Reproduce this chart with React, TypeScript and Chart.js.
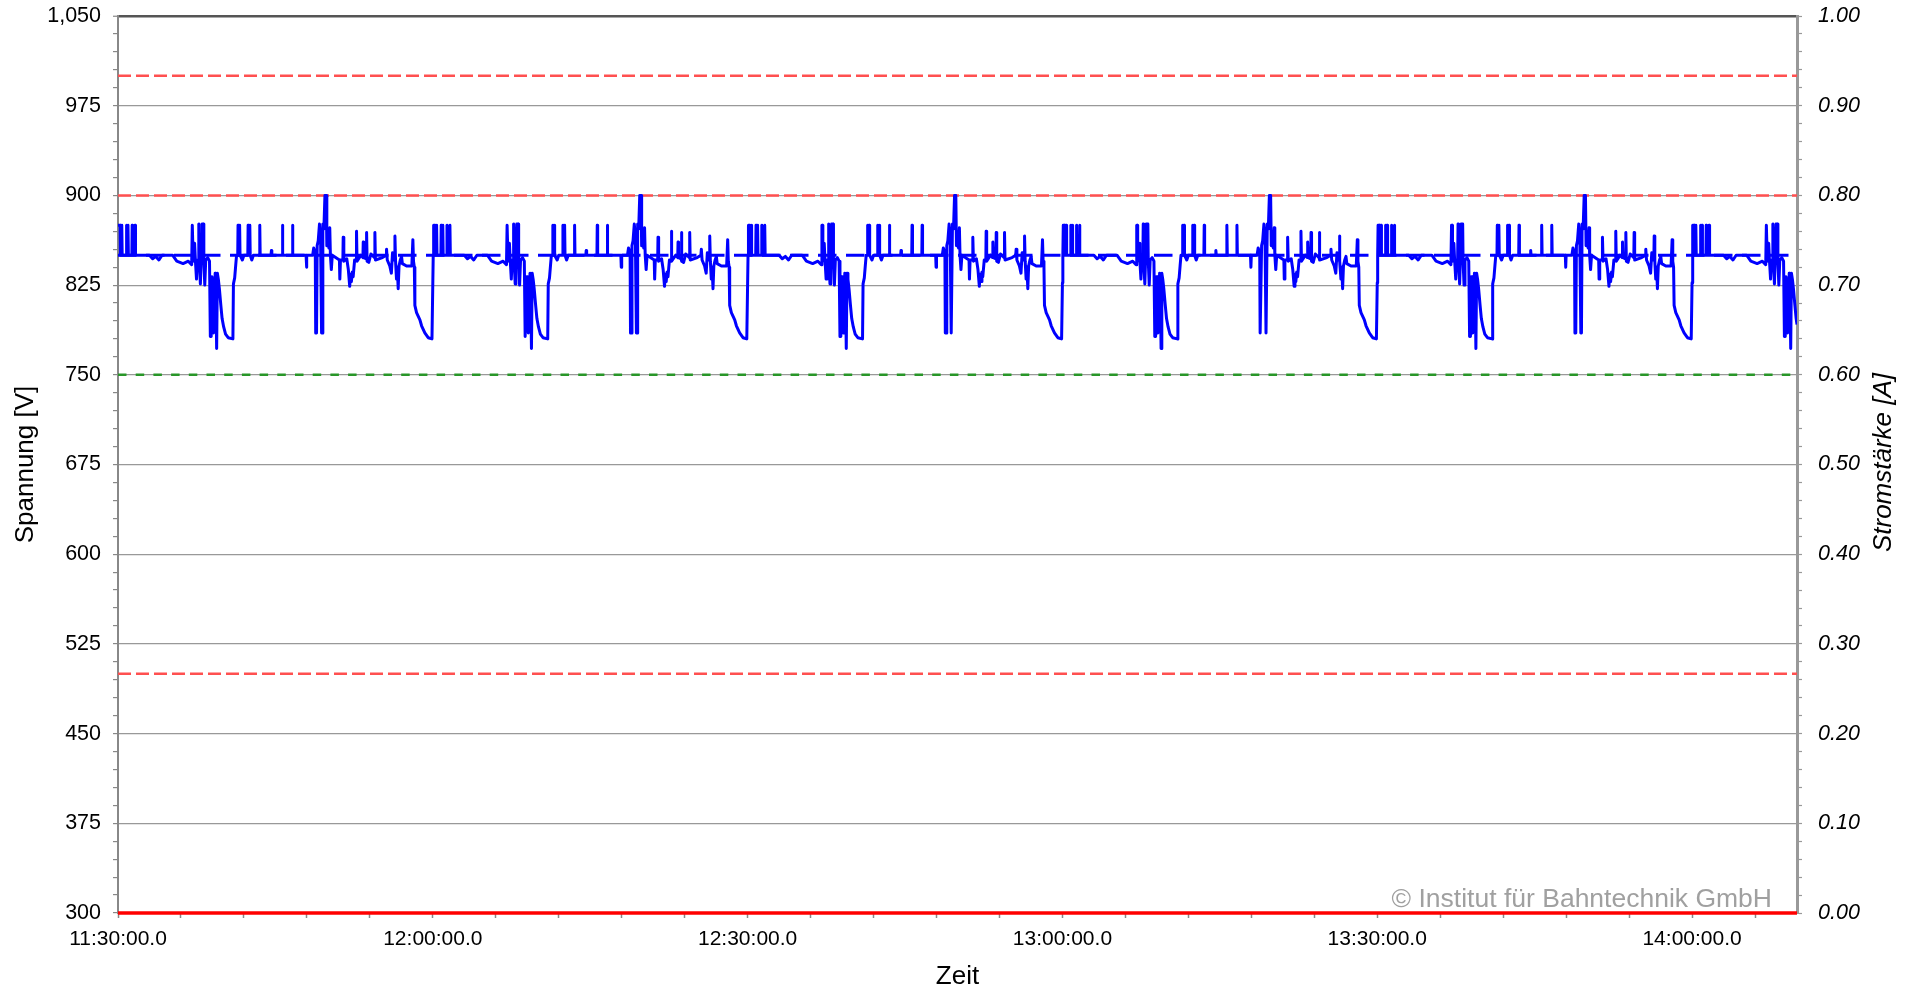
import React, { useEffect, useRef } from 'react';
import { Chart, registerables } from 'chart.js';

Chart.register(...registerables);

// ---------- axes ----------
const xMinMinute = 0; // 11:30:00.0
const xMaxMinute = 160; // 14:10:00.0
const xMinorStepMinutes = 6;
const xLabelMinutes = [0, 30, 60, 90, 120, 150];
const xTickLabels = ['11:30:00.0', '12:00:00.0', '12:30:00.0', '13:00:00.0', '13:30:00.0', '14:00:00.0'];

const yMinVolt = 300;
const yMaxVolt = 1050;
const yMinorStepVolt = 15;
const yLabelValues = [300, 375, 450, 525, 600, 675, 750, 825, 900, 975, 1050];
const yTickLabels = ['300', '375', '450', '525', '600', '675', '750', '825', '900', '975', '1,050'];

const currentMinAmp = 0;
const currentMaxAmp = 1;
const currentMinorSteps = 50;
const currentTickLabels = ['0.00', '0.10', '0.20', '0.30', '0.40', '0.50', '0.60', '0.70', '0.80', '0.90', '1.00'];

const xAxisTitle = 'Zeit';
const yAxisTitle = 'Spannung [V]';
const y1AxisTitle = 'Stromstärke [A]';
const copyrightText = '© Institut für Bahntechnik GmbH';

// ---------- reference lines ----------
const redLimitVolts = [1000, 900, 500];
const greenLimitVolts = [750];
const nominalVolt = 850;
const currentAmps: number[][] = [[0, 0], [160, 0]];

// ---------- voltage [minutes since 11:30, V] ----------
const zyklus1: number[][] = [
[0.00,875],[0.20,875],[0.23,850],[0.33,850],[0.36,875],[0.40,850],[0.77,850],[0.80,875],[0.84,850],[0.92,850],[0.95,875],[0.99,850],[1.32,850],[1.35,875],[1.39,850],[1.60,850],[1.63,875],[1.67,850],
[3.00,850],[3.30,847],[3.60,849],[3.90,846],[4.20,850],[5.20,850],[5.60,845],[6.20,843],[6.70,845],[7.02,842],
[7.08,875],[7.13,875],[7.17,845],[7.30,860],[7.38,845],[7.48,830],[7.56,846],[7.66,846],[7.70,876],[7.75,845],[7.85,826],[7.92,846],[8.00,876],[8.14,876],[8.18,845],[8.27,825],[8.36,846],[8.55,848],[8.72,845],
[8.80,782],[8.88,782],[8.96,832],[9.04,832],[9.10,785],[9.18,805],[9.26,835],[9.32,829],[9.40,772],[9.47,835],[9.56,830],[9.66,822],[9.80,808],[9.92,797],[10.07,790],[10.25,784],[10.50,781],[10.95,780],
[11.00,826],[11.12,831],[11.22,842],[11.30,850],[11.41,850],[11.44,875],[11.48,850],[11.56,850],[11.59,875],[11.63,850],[11.85,846],[12.00,850],[12.37,850],[12.40,875],[12.44,850],[12.53,850],[12.56,875],[12.60,850],[12.75,846],[12.90,850],[13.48,850],[13.51,875],[13.55,850],[14.58,850],[14.62,854],[14.66,850],[15.64,850],[15.67,875],[15.71,850],[16.60,850],[16.63,875],[16.67,850],[17.92,850],[17.96,840],[18.00,850],
[18.55,850],[18.65,856],[18.80,852],[18.84,785],[18.92,785],[18.98,858],[19.08,862],[19.20,876],[19.30,866],[19.40,785],[19.46,785],[19.52,876],[19.62,872],[19.72,900],[19.84,900],[19.90,858],[20.00,862],[20.10,856],[20.18,873],[20.24,850],[20.33,838],[20.42,850],
[21.10,846],[21.14,830],[21.20,846],[21.43,846],[21.46,865],[21.52,845],[21.80,847],[21.95,838],[22.08,824],[22.16,834],[22.24,828],[22.33,836],[22.41,832],[22.55,846],[22.70,846],[22.73,870],[22.78,845],[23.15,850],[23.34,848],[23.37,861],[23.42,848],[23.66,847],[23.69,869],[23.74,845],[23.90,844],[24.10,851],[24.45,848],[24.48,869],[24.53,846],[25.20,848],[25.55,850],[25.59,855],[25.66,846],[25.90,841],[26.05,835],[26.16,852],[26.24,846],[26.36,846],[26.39,866],[26.45,845],[26.54,830],[26.62,840],[26.70,822],[26.78,841],[26.90,846],[27.02,849],[27.10,843],[27.50,841],[28.00,841],[28.10,863],[28.16,845],[28.24,840],
[28.29,808],[28.45,802],[28.77,796],[28.93,791],[29.24,785],[29.56,781],[29.92,780],
];

const zyklus2: number[][] = [
[30.00,827],[30.04,850],[30.08,875],[30.20,875],[30.23,850],[30.33,850],[30.36,875],[30.40,850],[30.77,850],[30.80,875],[30.84,850],[30.92,850],[30.95,875],[30.99,850],[31.32,850],[31.35,875],[31.39,850],[31.60,850],[31.63,875],[31.67,850],
[33.00,850],[33.30,847],[33.60,849],[33.90,846],[34.20,850],[35.20,850],[35.60,845],[36.20,843],[36.70,845],[37.02,842],
[37.08,875],[37.13,875],[37.17,845],[37.30,860],[37.38,845],[37.48,830],[37.56,846],[37.66,846],[37.70,876],[37.75,845],[37.85,826],[37.92,846],[38.00,876],[38.14,876],[38.18,845],[38.27,825],[38.36,846],[38.55,848],[38.72,845],
[38.80,782],[38.88,782],[38.96,832],[39.04,832],[39.10,785],[39.18,805],[39.26,835],[39.32,829],[39.40,772],[39.47,835],[39.56,830],[39.66,822],[39.80,808],[39.92,797],[40.07,790],[40.25,784],[40.50,781],[40.95,780],
[41.00,826],[41.12,831],[41.22,842],[41.30,850],[41.41,850],[41.44,875],[41.48,850],[41.56,850],[41.59,875],[41.63,850],[41.85,846],[42.00,850],[42.37,850],[42.40,875],[42.44,850],[42.53,850],[42.56,875],[42.60,850],[42.75,846],[42.90,850],[43.48,850],[43.51,875],[43.55,850],[44.58,850],[44.62,854],[44.66,850],[45.64,850],[45.67,875],[45.71,850],[46.60,850],[46.63,875],[46.67,850],[47.92,850],[47.96,840],[48.00,850],
[48.55,850],[48.65,856],[48.80,852],[48.84,785],[48.92,785],[48.98,858],[49.08,862],[49.20,876],[49.30,866],[49.40,785],[49.46,785],[49.52,876],[49.62,872],[49.72,900],[49.84,900],[49.90,858],[50.00,862],[50.10,856],[50.18,873],[50.24,850],[50.33,838],[50.42,850],
[51.10,846],[51.14,830],[51.20,846],[51.43,846],[51.46,865],[51.52,845],[51.80,847],[51.95,838],[52.08,824],[52.16,834],[52.24,828],[52.33,836],[52.41,832],[52.55,846],[52.70,846],[52.73,870],[52.78,845],[53.15,850],[53.34,848],[53.37,861],[53.42,848],[53.66,847],[53.69,869],[53.74,845],[53.90,844],[54.10,851],[54.45,848],[54.48,869],[54.53,846],[55.20,848],[55.55,850],[55.59,855],[55.66,846],[55.90,841],[56.05,835],[56.16,852],[56.24,846],[56.36,846],[56.39,866],[56.45,845],[56.54,830],[56.62,840],[56.70,822],[56.78,841],[56.90,846],[57.02,849],[57.10,843],[57.50,841],[58.00,841],[58.10,863],[58.16,845],[58.24,840],
[58.29,808],[58.45,802],[58.77,796],[58.93,791],[59.24,785],[59.56,781],[59.92,780],
];

const zyklus3: number[][] = [
[60.00,827],[60.04,850],[60.08,875],[60.20,875],[60.23,850],[60.33,850],[60.36,875],[60.40,850],[60.77,850],[60.80,875],[60.84,850],[60.92,850],[60.95,875],[60.99,850],[61.32,850],[61.35,875],[61.39,850],[61.60,850],[61.63,875],[61.67,850],
[63.00,850],[63.30,847],[63.60,849],[63.90,846],[64.20,850],[65.20,850],[65.60,845],[66.20,843],[66.70,845],[67.02,842],
[67.08,875],[67.13,875],[67.17,845],[67.30,860],[67.38,845],[67.48,830],[67.56,846],[67.66,846],[67.70,876],[67.75,845],[67.85,826],[67.92,846],[68.00,876],[68.14,876],[68.18,845],[68.27,825],[68.36,846],[68.55,848],[68.72,845],
[68.80,782],[68.88,782],[68.96,832],[69.04,832],[69.10,785],[69.18,805],[69.26,835],[69.32,829],[69.40,772],[69.47,835],[69.56,830],[69.66,822],[69.80,808],[69.92,797],[70.07,790],[70.25,784],[70.50,781],[70.95,780],
[71.00,826],[71.12,831],[71.22,842],[71.30,850],[71.41,850],[71.44,875],[71.48,850],[71.56,850],[71.59,875],[71.63,850],[71.85,846],[72.00,850],[72.37,850],[72.40,875],[72.44,850],[72.53,850],[72.56,875],[72.60,850],[72.75,846],[72.90,850],[73.48,850],[73.51,875],[73.55,850],[74.58,850],[74.62,854],[74.66,850],[75.64,850],[75.67,875],[75.71,850],[76.60,850],[76.63,875],[76.67,850],[77.92,850],[77.96,840],[78.00,850],
[78.55,850],[78.65,856],[78.80,852],[78.84,785],[78.92,785],[78.98,858],[79.08,862],[79.20,876],[79.30,866],[79.40,785],[79.46,785],[79.52,876],[79.62,872],[79.72,900],[79.84,900],[79.90,858],[80.00,862],[80.10,856],[80.18,873],[80.24,850],[80.33,838],[80.42,850],
[81.10,846],[81.14,830],[81.20,846],[81.43,846],[81.46,865],[81.52,845],[81.80,847],[81.95,838],[82.08,824],[82.16,834],[82.24,828],[82.33,836],[82.41,832],[82.55,846],[82.70,846],[82.73,870],[82.78,845],[83.15,850],[83.34,848],[83.37,861],[83.42,848],[83.66,847],[83.69,869],[83.74,845],[83.90,844],[84.10,851],[84.45,848],[84.48,869],[84.53,846],[85.20,848],[85.55,850],[85.59,855],[85.66,846],[85.90,841],[86.05,835],[86.16,852],[86.24,846],[86.36,846],[86.39,866],[86.45,845],[86.54,830],[86.62,840],[86.70,822],[86.78,841],[86.90,846],[87.02,849],[87.10,843],[87.50,841],[88.00,841],[88.10,863],[88.16,845],[88.24,840],
[88.29,808],[88.45,802],[88.77,796],[88.93,791],[89.24,785],[89.56,781],[89.92,780],
];

const zyklus4: number[][] = [
[90.00,827],[90.04,850],[90.08,875],[90.20,875],[90.23,850],[90.33,850],[90.36,875],[90.40,850],[90.77,850],[90.80,875],[90.84,850],[90.92,850],[90.95,875],[90.99,850],[91.32,850],[91.35,875],[91.39,850],[91.60,850],[91.63,875],[91.67,850],
[93.00,850],[93.30,847],[93.60,849],[93.90,846],[94.20,850],[95.20,850],[95.60,845],[96.20,843],[96.70,845],[97.02,842],
[97.08,875],[97.13,875],[97.17,845],[97.30,860],[97.38,845],[97.48,830],[97.56,846],[97.66,846],[97.70,876],[97.75,845],[97.85,826],[97.92,846],[98.00,876],[98.14,876],[98.18,845],[98.27,825],[98.36,846],[98.55,848],[98.72,845],
[98.80,782],[98.88,782],[98.96,832],[99.04,832],[99.10,785],[99.18,805],[99.26,835],[99.32,829],[99.40,772],[99.47,835],[99.56,830],[99.66,822],[99.80,808],[99.92,797],[100.07,790],[100.25,784],[100.50,781],[100.95,780],
[101.00,826],[101.12,831],[101.22,842],[101.30,850],[101.41,850],[101.44,875],[101.48,850],[101.56,850],[101.59,875],[101.63,850],[101.85,846],[102.00,850],[102.37,850],[102.40,875],[102.44,850],[102.53,850],[102.56,875],[102.60,850],[102.75,846],[102.90,850],[103.48,850],[103.51,875],[103.55,850],[104.58,850],[104.62,854],[104.66,850],[105.64,850],[105.67,875],[105.71,850],[106.60,850],[106.63,875],[106.67,850],[107.92,850],[107.96,840],[108.00,850],
[108.55,850],[108.65,856],[108.80,852],[108.84,785],[108.92,785],[108.98,858],[109.08,862],[109.20,876],[109.30,866],[109.40,785],[109.46,785],[109.52,876],[109.62,872],[109.72,900],[109.84,900],[109.90,858],[110.00,862],[110.10,856],[110.18,873],[110.24,850],[110.33,838],[110.42,850],
[111.10,846],[111.14,830],[111.20,846],[111.43,846],[111.46,865],[111.52,845],[111.80,847],[111.95,838],[112.08,824],[112.16,834],[112.24,828],[112.33,836],[112.41,832],[112.55,846],[112.70,846],[112.73,870],[112.78,845],[113.15,850],[113.34,848],[113.37,861],[113.42,848],[113.66,847],[113.69,869],[113.74,845],[113.90,844],[114.10,851],[114.45,848],[114.48,869],[114.53,846],[115.20,848],[115.55,850],[115.59,855],[115.66,846],[115.90,841],[116.05,835],[116.16,852],[116.24,846],[116.36,846],[116.39,866],[116.45,845],[116.54,830],[116.62,840],[116.70,822],[116.78,841],[116.90,846],[117.02,849],[117.10,843],[117.50,841],[118.00,841],[118.10,863],[118.16,845],[118.24,840],
[118.29,808],[118.45,802],[118.77,796],[118.93,791],[119.24,785],[119.56,781],[119.92,780],
];

const zyklus5: number[][] = [
[120.00,827],[120.04,850],[120.08,875],[120.20,875],[120.23,850],[120.33,850],[120.36,875],[120.40,850],[120.77,850],[120.80,875],[120.84,850],[120.92,850],[120.95,875],[120.99,850],[121.32,850],[121.35,875],[121.39,850],[121.60,850],[121.63,875],[121.67,850],
[123.00,850],[123.30,847],[123.60,849],[123.90,846],[124.20,850],[125.20,850],[125.60,845],[126.20,843],[126.70,845],[127.02,842],
[127.08,875],[127.13,875],[127.17,845],[127.30,860],[127.38,845],[127.48,830],[127.56,846],[127.66,846],[127.70,876],[127.75,845],[127.85,826],[127.92,846],[128.00,876],[128.14,876],[128.18,845],[128.27,825],[128.36,846],[128.55,848],[128.72,845],
[128.80,782],[128.88,782],[128.96,832],[129.04,832],[129.10,785],[129.18,805],[129.26,835],[129.32,829],[129.40,772],[129.47,835],[129.56,830],[129.66,822],[129.80,808],[129.92,797],[130.07,790],[130.25,784],[130.50,781],[130.95,780],
[131.00,826],[131.12,831],[131.22,842],[131.30,850],[131.41,850],[131.44,875],[131.48,850],[131.56,850],[131.59,875],[131.63,850],[131.85,846],[132.00,850],[132.37,850],[132.40,875],[132.44,850],[132.53,850],[132.56,875],[132.60,850],[132.75,846],[132.90,850],[133.48,850],[133.51,875],[133.55,850],[134.58,850],[134.62,854],[134.66,850],[135.64,850],[135.67,875],[135.71,850],[136.60,850],[136.63,875],[136.67,850],[137.92,850],[137.96,840],[138.00,850],
[138.55,850],[138.65,856],[138.80,852],[138.84,785],[138.92,785],[138.98,858],[139.08,862],[139.20,876],[139.30,866],[139.40,785],[139.46,785],[139.52,876],[139.62,872],[139.72,900],[139.84,900],[139.90,858],[140.00,862],[140.10,856],[140.18,873],[140.24,850],[140.33,838],[140.42,850],
[141.10,846],[141.14,830],[141.20,846],[141.43,846],[141.46,865],[141.52,845],[141.80,847],[141.95,838],[142.08,824],[142.16,834],[142.24,828],[142.33,836],[142.41,832],[142.55,846],[142.70,846],[142.73,870],[142.78,845],[143.15,850],[143.34,848],[143.37,861],[143.42,848],[143.66,847],[143.69,869],[143.74,845],[143.90,844],[144.10,851],[144.45,848],[144.48,869],[144.53,846],[145.20,848],[145.55,850],[145.59,855],[145.66,846],[145.90,841],[146.05,835],[146.16,852],[146.24,846],[146.36,846],[146.39,866],[146.45,845],[146.54,830],[146.62,840],[146.70,822],[146.78,841],[146.90,846],[147.02,849],[147.10,843],[147.50,841],[148.00,841],[148.10,863],[148.16,845],[148.24,840],
[148.29,808],[148.45,802],[148.77,796],[148.93,791],[149.24,785],[149.56,781],[149.92,780],
];

const zyklus6: number[][] = [
[150.00,827],[150.04,850],[150.08,875],[150.20,875],[150.23,850],[150.33,850],[150.36,875],[150.40,850],[150.77,850],[150.80,875],[150.84,850],[150.92,850],[150.95,875],[150.99,850],[151.32,850],[151.35,875],[151.39,850],[151.60,850],[151.63,875],[151.67,850],
[153.00,850],[153.30,847],[153.60,849],[153.90,846],[154.20,850],[155.20,850],[155.60,845],[156.20,843],[156.70,845],[157.02,842],
[157.08,875],[157.13,875],[157.17,845],[157.30,860],[157.38,845],[157.48,830],[157.56,846],[157.66,846],[157.70,876],[157.75,845],[157.85,826],[157.92,846],[158.00,876],[158.14,876],[158.18,845],[158.27,825],[158.36,846],[158.55,848],[158.72,845],
[158.80,782],[158.88,782],[158.96,832],[159.04,832],[159.10,785],[159.18,805],[159.26,835],[159.32,829],[159.40,772],[159.47,835],[159.56,830],[159.66,822],[159.80,808],[159.92,797],[160.00,792],
];

const FONT = '"Liberation Sans", Arial, Helvetica, sans-serif';

function labelIndex(values: number[], v: number): number {
  for (let i = 0; i < values.length; i++) if (Math.abs(values[i] - v) < 1e-6) return i;
  return -1;
}

const textPlugin = {
  id: 'axisTexts',
  afterDraw(chart: any) {
    const ctx = chart.ctx as CanvasRenderingContext2D;
    const a = chart.chartArea;
    const midY = (a.top + a.bottom) / 2;
    ctx.save();
    ctx.fillStyle = '#000';
    ctx.textAlign = 'center';
    ctx.textBaseline = 'alphabetic';
    ctx.font = `26px ${FONT}`;
    ctx.save();
    ctx.translate(33, midY);
    ctx.rotate(-Math.PI / 2);
    ctx.fillText(yAxisTitle, 0, 0);
    ctx.restore();
    ctx.save();
    ctx.font = `italic 26px ${FONT}`;
    ctx.translate(a.right + 94, midY - 2);
    ctx.rotate(-Math.PI / 2);
    ctx.fillText(y1AxisTitle, 0, 0);
    ctx.restore();
    ctx.fillText(xAxisTitle, (a.left + a.right) / 2, 984);
    ctx.font = `26.5px ${FONT}`;
    ctx.fillStyle = '#a0a0a0';
    ctx.textAlign = 'right';
    ctx.fillText(copyrightText, a.right - 25, a.bottom - 6);
    ctx.restore();
  },
};

function refLine(v: number, color: string, dash: number[], width: number) {
  return {
    data: [[xMinMinute, v], [xMaxMinute, v]],
    yAxisID: 'y',
    borderColor: color,
    borderWidth: width,
    borderDash: dash,
    pointRadius: 0,
    order: 3,
    clip: false as any,
  };
}

export default function App() {
  const ref = useRef<HTMLCanvasElement>(null);
  useEffect(() => {
    document.body.style.margin = '0';
    const canvas = ref.current;
    if (!canvas) return;
    const voltage = [...zyklus1, ...zyklus2, ...zyklus3, ...zyklus4, ...zyklus5, ...zyklus6];
    const datasets: any[] = [
      {
        data: voltage,
        yAxisID: 'y',
        borderColor: '#0000ff',
        borderWidth: 3,
        pointRadius: 0,
        order: 1,
      },
      {
        data: [[xMinMinute, nominalVolt], [xMaxMinute, nominalVolt]],
        yAxisID: 'y',
        borderColor: '#0000ff',
        borderWidth: 3,
        borderDash: [18.5, 9.5],
        pointRadius: 0,
        order: 2,
      },
      ...redLimitVolts.map((v) => refLine(v, 'rgb(255,80,80)', [13, 5], 2.5)),
      ...greenLimitVolts.map((v) => refLine(v, 'rgb(40,150,40)', [8.5, 9.2], 2.5)),
      {
        data: currentAmps,
        yAxisID: 'y1',
        borderColor: '#ff0000',
        borderWidth: 3.5,
        pointRadius: 0,
        order: 0,
        clip: false,
      },
    ];

    const chart = new Chart(canvas, {
      type: 'line',
      data: { datasets },
      options: {
        animation: false,
        responsive: false,
        maintainAspectRatio: false,
        events: [],
        layout: { padding: { top: 16, left: 0, right: 0, bottom: 0 } },
        plugins: {
          legend: { display: false },
          tooltip: { enabled: false },
          title: { display: false },
        },
        elements: {
          point: { radius: 0 },
          line: { tension: 0, borderJoinStyle: 'round', borderCapStyle: 'butt' },
        },
        scales: {
          x: {
            type: 'linear',
            position: 'bottom',
            min: xMinMinute,
            max: xMaxMinute,
            afterBuildTicks: (s: any) => {
              const t: any[] = [];
              for (let m = xMinMinute; m < xMaxMinute; m += xMinorStepMinutes) t.push({ value: m });
              s.ticks = t;
            },
            afterFit: (s: any) => {
              s.height = 76;
              s.paddingLeft = 0;
              s.paddingRight = 0;
            },
            ticks: {
              autoSkip: false,
              maxRotation: 0,
              minRotation: 0,
              padding: 9,
              color: '#000',
              font: { family: FONT, size: 21 },
              callback: (v: any) => {
                const i = labelIndex(xLabelMinutes, Number(v));
                return i >= 0 ? xTickLabels[i] : '';
              },
            },
            grid: {
              drawOnChartArea: false,
              drawTicks: true,
              tickLength: 5,
              tickColor: '#888',
              tickWidth: 1.5,
            },
            border: { display: true, color: '#888', width: 2 },
          },
          y: {
            type: 'linear',
            position: 'left',
            min: yMinVolt,
            max: yMaxVolt,
            afterBuildTicks: (s: any) => {
              const t: any[] = [];
              for (let v = yMinVolt; v <= yMaxVolt; v += yMinorStepVolt) t.push({ value: v });
              s.ticks = t;
            },
            afterFit: (s: any) => {
              s.width = 118;
              s.paddingTop = 0;
              s.paddingBottom = 0;
            },
            ticks: {
              autoSkip: false,
              padding: 12,
              color: '#000',
              font: { family: FONT, size: 21.5 },
              callback: (v: any) => {
                const i = labelIndex(yLabelValues, Number(v));
                return i >= 0 ? yTickLabels[i] : '';
              },
            },
            grid: {
              drawOnChartArea: true,
              drawTicks: true,
              tickLength: 5,
              color: (c: any) => {
                const v = c.tick ? c.tick.value : NaN;
                if (v === yMaxVolt) return '#555';
                return labelIndex(yLabelValues, v) >= 0 ? '#999' : 'rgba(0,0,0,0)';
              },
              lineWidth: (c: any) => (c.tick && c.tick.value === yMaxVolt ? 2.5 : 1.2),
              tickColor: '#888',
              tickWidth: 1.2,
            },
            border: { display: true, color: '#888', width: 2 },
          },
          y1: {
            type: 'linear',
            position: 'right',
            min: currentMinAmp,
            max: currentMaxAmp,
            afterBuildTicks: (s: any) => {
              const t: any[] = [];
              for (let i = 0; i <= currentMinorSteps; i++) t.push({ value: currentMinAmp + ((currentMaxAmp - currentMinAmp) * i) / currentMinorSteps });
              s.ticks = t;
            },
            afterFit: (s: any) => {
              s.width = 119;
              s.paddingTop = 0;
              s.paddingBottom = 0;
            },
            ticks: {
              autoSkip: false,
              padding: 16,
              color: '#000',
              font: { family: FONT, size: 21.5, style: 'italic' },
              callback: (v: any) => {
                const k = Number(v) * 10;
                const r = Math.round(k);
                return Math.abs(k - r) < 1e-6 ? currentTickLabels[r] : '';
              },
            },
            grid: {
              drawOnChartArea: false,
              drawTicks: true,
              tickLength: 5,
              tickColor: '#999',
              tickWidth: 1.2,
            },
            border: { display: true, color: '#999', width: 3 },
          },
        },
      } as any,
      plugins: [textPlugin],
    });
    return () => chart.destroy();
  }, []);

  return (
    <div style={{ width: 1916, height: 989, background: '#fff' }}>
      <canvas ref={ref} width={1916} height={989} style={{ display: 'block', width: '1916px', height: '989px' }} />
    </div>
  );
}
